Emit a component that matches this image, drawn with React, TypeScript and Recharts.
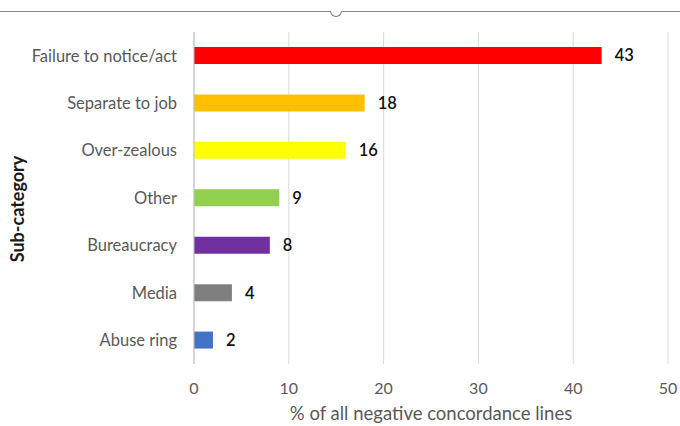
import React from 'react';
import { BarChart, Bar, XAxis, YAxis, CartesianGrid, Cell, LabelList, Label } from 'recharts';

// Share of negative concordance lines by sub-category (%)
const categories = [
  'Failure to notice/act',
  'Separate to job',
  'Over-zealous',
  'Other',
  'Bureaucracy',
  'Media',
  'Abuse ring',
];
const shares = [43, 18, 16, 9, 8, 4, 2];
const xTicks = [0, 10, 20, 30, 40, 50];

const palette = ['#FF0000', '#FFC000', '#FFFF00', '#92D050', '#7030A0', '#7F7F7F', '#4472C4'];

const rows = categories.map((name, i) => ({ name, value: shares[i] }));

const FONT = 'Lato, "Open Sans", sans-serif';
const TEXT_GREY = '#595959';
const GRID = '#D9D9D9';

const YTitle = (props: any) => {
  const vb = props.viewBox || { x: 0, y: 0, width: 0, height: 0 };
  const cx = 17;
  const cy = vb.y + vb.height / 2 + 11;
  return (
    <text
      x={cx}
      y={cy}
      transform={`rotate(-90, ${cx}, ${cy})`}
      textAnchor="middle"
      dominantBaseline="central"
      fontFamily={FONT}
      fontSize={18}
      fontWeight={700}
      fill="#1a1a1a"
    >
      Sub-category
    </text>
  );
};

export default function App() {
  return (
    <div style={{ position: 'absolute', left: 0, top: 0, width: 680, height: 426, background: '#fff' }}>
      {/* chart frame edge with its resize handle */}
      <div style={{ position: 'absolute', left: 0, top: 11, width: 680, height: 0, borderTop: '1.5px solid #8a8a8a' }} />
      <div
        style={{
          position: 'absolute',
          left: 330,
          top: 11,
          width: 10,
          height: 5,
          border: '1.5px solid #7a7a7a',
          borderTop: 'none',
          borderRadius: '0 0 7px 7px',
          background: '#fff',
        }}
      />
      <BarChart
        width={680}
        height={426}
        data={rows}
        layout="vertical"
        margin={{ top: 32, right: 12, bottom: 0, left: 0 }}
        barCategoryGap={0}
      >
        <CartesianGrid horizontal={false} vertical stroke={GRID} />
        <XAxis
          type="number"
          domain={[0, 50]}
          ticks={xTicks}
          axisLine={false}
          tickLine={false}
          height={62}
          tickMargin={13}
          tick={{ fill: TEXT_GREY, fontSize: 16, fontFamily: FONT }}
          interval={0}
        >
          <Label
            value="% of all negative concordance lines"
            position="insideBottom"
            offset={6}
            fill={TEXT_GREY}
            fontSize={18.5}
            fontFamily={FONT}
          />
        </XAxis>
        <YAxis
          type="category"
          dataKey="name"
          width={194}
          axisLine={{ stroke: '#BFBFBF' }}
          tickLine={false}
          tickMargin={11}
          tick={{ fill: TEXT_GREY, fontSize: 16.5, fontFamily: FONT }}
          interval={0}
        >
          <Label content={<YTitle />} />
        </YAxis>
        <Bar dataKey="value" barSize={17} isAnimationActive={false}>
          {rows.map((r, i) => (
            <Cell key={r.name} fill={palette[i]} />
          ))}
          <LabelList
            dataKey="value"
            position="right"
            offset={13}
            fill="#111"
            fontSize={16.5}
            fontFamily={FONT}
            fontWeight={600}
          />
        </Bar>
      </BarChart>
    </div>
  );
}
